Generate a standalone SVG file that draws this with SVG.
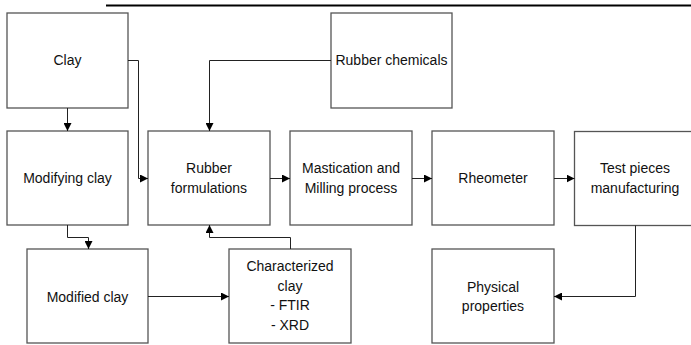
<svg xmlns="http://www.w3.org/2000/svg" width="691" height="345" viewBox="0 0 691 345">
<defs>
<marker id="ah" viewBox="0 0 8 8" refX="8" refY="4" markerWidth="8" markerHeight="8" markerUnits="userSpaceOnUse" orient="auto">
<path d="M0,0 L8,4 L0,8 Z" fill="#000"/>
</marker>
<style>
.box{fill:#fff;stroke:#555;stroke-width:1.3}
.t{font-family:"Liberation Sans",Arial,sans-serif;font-size:14px;fill:#111;text-anchor:middle}
.c{fill:none;stroke:#222;stroke-width:1;marker-end:url(#ah)}
</style>
</defs>
<rect width="691" height="345" fill="#fff"/>
<line x1="106" y1="5.5" x2="691" y2="5.5" stroke="#000" stroke-width="2"/>
<g id="clay"><rect class="box" x="7" y="13" width="121" height="95"/><text class="t" x="67.5" y="65">Clay</text></g>
<g id="rubber-chemicals"><rect class="box" x="331" y="13" width="121" height="95"/><text class="t" x="391.5" y="65">Rubber chemicals</text></g>
<g id="modifying-clay"><rect class="box" x="7" y="131" width="121" height="94"/><text class="t" x="67.5" y="183">Modifying clay</text></g>
<g id="rubber-formulations"><rect class="box" x="148" y="131" width="122" height="94"/><text class="t" x="209" y="173">Rubber</text><text class="t" x="209" y="193">formulations</text></g>
<g id="mastication"><rect class="box" x="290" y="131" width="122" height="94"/><text class="t" x="351" y="173">Mastication and</text><text class="t" x="351" y="193">Milling process</text></g>
<g id="rheometer"><rect class="box" x="432" y="131" width="122" height="94"/><text class="t" x="493" y="183">Rheometer</text></g>
<g id="test-pieces"><rect class="box" x="574.5" y="131.5" width="125" height="94"/><text class="t" x="635" y="173">Test pieces</text><text class="t" x="635" y="193">manufacturing</text></g>
<g id="modified-clay"><rect class="box" x="27" y="249" width="121" height="94"/><text class="t" x="87.5" y="302">Modified clay</text></g>
<g id="characterized-clay"><rect class="box" x="229" y="249" width="122" height="94"/><text class="t" x="290" y="271">Characterized</text><text class="t" x="290" y="291">clay</text><text class="t" x="290" y="310">- FTIR</text><text class="t" x="290" y="330">- XRD</text></g>
<g id="physical-properties"><rect class="box" x="432" y="249" width="122" height="94"/><text class="t" x="493" y="292">Physical</text><text class="t" x="493" y="311">properties</text></g>
<g id="connectors">
<path class="c" d="M67.5,108 V131"/>
<path class="c" d="M128,60.5 H138.5 V178.5 H148"/>
<path class="c" d="M331,60.5 H209.5 V131"/>
<path class="c" d="M270,178.5 H290"/>
<path class="c" d="M412,178.5 H432"/>
<path class="c" d="M554,178.5 H574.5"/>
<path class="c" d="M67.5,225 V237.5 H88.5 V249"/>
<path class="c" d="M148,296.5 H229"/>
<path class="c" d="M290.5,249 V237.5 H209.5 V225"/>
<path class="c" d="M635.5,225.5 V296.5 H554"/>
</g>
</svg>
